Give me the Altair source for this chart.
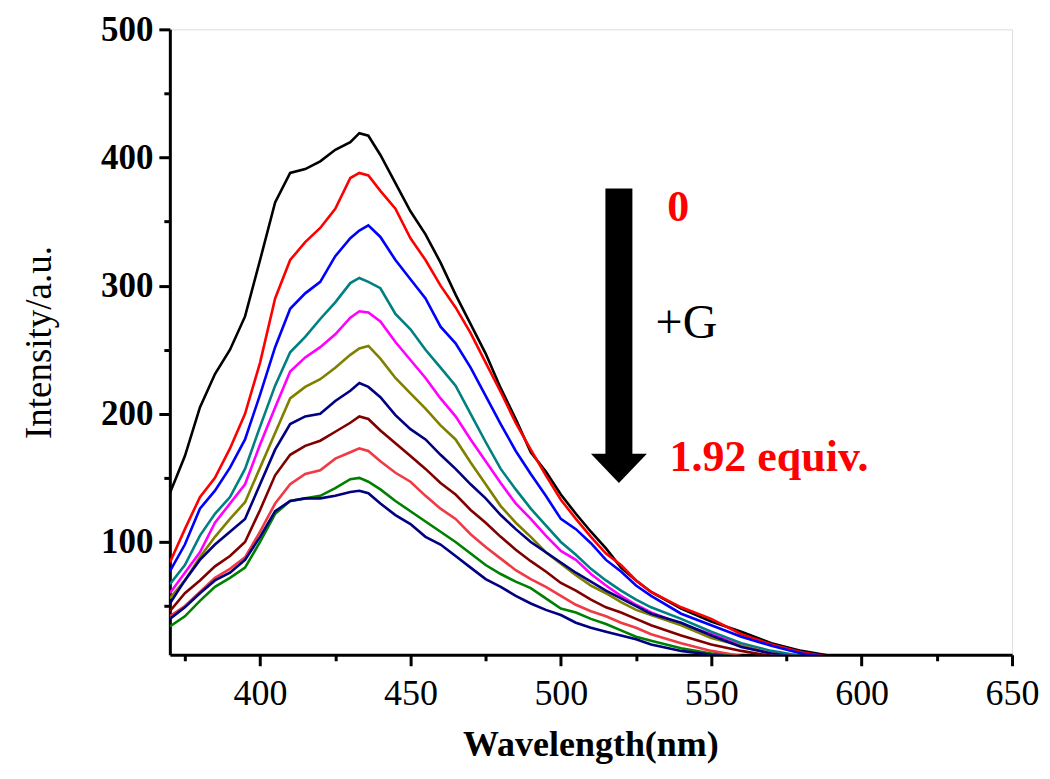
import altair as alt
import pandas as pd

wavelength = [370, 375, 380, 385, 390, 395, 400, 405, 410, 415, 420, 425, 430, 433, 436,
              440, 445, 450, 455, 460, 465, 470, 475, 480, 485, 490, 495, 500, 505, 510,
              515, 520, 525, 530, 540, 550, 560, 570, 580, 590]

s01_black = [138, 167, 205, 231, 250, 276, 320, 365, 388, 391, 397, 406, 412, 419, 417,
             402, 380, 358, 340, 318, 293, 270, 247, 220, 196, 170, 155, 137, 122, 108,
             95, 80, 70, 61, 48, 38, 30, 21, 15, 11]
s02_red = [84, 110, 135, 150, 173, 200, 240, 290, 320, 334, 345, 360, 384, 388, 386,
           374, 360, 337, 320, 300, 283, 263, 240, 217, 193, 172, 152, 133, 118, 104,
           91, 82, 70, 61, 49, 40, 28, 20, 14, 10]
s03_blue = [77, 98, 126, 140, 158, 180, 215, 252, 282, 294, 303, 323, 337, 343, 347,
            338, 320, 305, 290, 268, 255, 236, 214, 192, 171, 153, 136, 118, 110, 99,
            86, 77, 66, 58, 44, 35, 26, 19, 13, 10]
s04_teal = [67, 82, 105, 122, 135, 157, 190, 222, 248, 260, 274, 287, 302, 306, 303,
            298, 278, 266, 250, 236, 222, 200, 178, 157, 141, 126, 113, 100, 90, 79,
            70, 62, 55, 49, 40, 30, 21, 15, 11, 9]
s05_magenta = [60, 76, 92, 115, 130, 145, 176, 205, 233, 244, 252, 262, 275, 280, 279,
               272, 256, 242, 228, 212, 198, 180, 163, 146, 130, 118, 105, 93, 86, 75,
               66, 58, 51, 45, 36, 28, 19, 13, 10, 9]
s06_olive = [56, 70, 88, 104, 118, 131, 158, 185, 212, 221, 227, 236, 246, 251, 253,
             243, 228, 216, 204, 191, 180, 162, 145, 128, 115, 104, 92, 83, 74, 66,
             60, 53, 47, 43, 35, 25, 19, 13, 10, 9]
s07_navy = [52, 70, 86, 98, 108, 118, 145, 172, 192, 198, 200, 210, 218, 224, 221,
            213, 199, 188, 180, 168, 157, 145, 134, 121, 110, 100, 92, 84, 76, 69,
            62, 56, 50, 44, 37, 27, 18, 13, 10, 9]
s08_maroon = [46, 60, 70, 81, 89, 100, 125, 152, 168, 175, 179, 186, 193, 198, 196,
              187, 177, 167, 157, 146, 137, 125, 115, 104, 94, 85, 77, 68, 62, 55,
              49, 45, 40, 35, 27, 20, 15, 11, 9, 8]
s09_lightred = [42, 50, 61, 72, 79, 88, 108, 130, 145, 153, 156, 165, 170, 173, 171,
                163, 154, 147, 136, 126, 118, 106, 96, 87, 78, 71, 65, 58, 51, 46,
                42, 37, 33, 28, 21, 15, 11, 9, 8, 8]
s10_green = [34, 42, 54, 65, 72, 80, 100, 122, 132, 134, 136, 142, 149, 150, 147,
             141, 132, 124, 116, 108, 100, 91, 82, 75, 69, 64, 56, 48, 45, 40,
             36, 31, 26, 23, 17, 13, 10, 9, 8, 8]
s11_navy = [40, 49, 60, 70, 76, 86, 104, 124, 132, 134, 134, 136, 139, 140, 138,
            130, 121, 114, 104, 98, 89, 80, 71, 65, 58, 52, 47, 43, 37, 33,
            30, 27, 24, 20, 15, 12, 10, 9, 8, 8]

series_names = ["s01", "s02", "s03", "s04", "s05", "s06", "s07", "s08", "s09", "s10", "s11"]
series_values = [s01_black, s02_red, s03_blue, s04_teal, s05_magenta, s06_olive,
                 s07_navy, s08_maroon, s09_lightred, s10_green, s11_navy]
series_colors = ["#000000", "#FF0000", "#0000FF", "#008080", "#FF00FF", "#808000",
                 "#000080", "#800000", "#F03A44", "#008000", "#000080"]

x_ticks = [375, 400, 425, 450, 475, 500, 525, 550, 575, 600, 625, 650]
y_ticks = [50, 100, 150, 200, 250, 300, 350, 400, 450, 500]

# annotation (data units)
arrow_x = [519.3]
arrow_top = [375.8]
arrow_shaft_end = [165.0]
arrow_head_y = [157.4]
label_top_text = ["0"]
label_top_pos = [(535.4, 350.5)]
label_mid_text = ["+G"]
label_mid_pos = [(531.5, 259.4)]
label_bot_text = ["1.92 equiv."]
label_bot_pos = [(536.1, 155.5)]

rows = []
for name, vals in zip(series_names, series_values):
    for w, v in zip(wavelength, vals):
        rows.append({"series": name, "wavelength": w, "intensity": v})
df = pd.DataFrame(rows)

FONT = "Liberation Serif"
xscale = alt.Scale(domain=[370, 650], nice=False, zero=False)
yscale = alt.Scale(domain=[12, 500], nice=False, zero=False)

x_axis = alt.Axis(
    values=x_ticks,
    labelExpr="datum.value % 50 === 0 ? datum.label : ''",
    tickSize={"condition": {"test": "datum.value % 50 === 0", "value": 11}, "value": 6},
    tickWidth=3, tickColor="black", domainWidth=3, domainColor="black",
    labelFont=FONT, labelFontSize=36, labelColor="black", labelPadding=11,
    labelFlush=False, labelOverlap=False, grid=False,
    title="Wavelength(nm)", titleFont=FONT, titleFontSize=36, titleFontWeight="bold",
    titleColor="black", titleX=421, titleY=101, titleBaseline="alphabetic",
    titleAlign="center",
)
y_axis = alt.Axis(
    values=y_ticks,
    labelExpr="datum.value % 100 === 0 ? datum.label : ''",
    tickSize={"condition": {"test": "datum.value % 100 === 0", "value": 11}, "value": 6},
    tickWidth=3, tickColor="black", domainWidth=3, domainColor="black",
    labelFont=FONT, labelFontSize=35, labelFontWeight="bold", labelColor="black",
    labelPadding=6, labelFlush=False, labelOverlap=False, grid=False,
    title="Intensity/a.u.", titleFont=FONT, titleFontSize=37, titleFontWeight="normal",
    titleColor="black", titleX=-130, titleY=313, titleAngle=-90,
    titleBaseline="middle", titleAlign="center",
)

lines = alt.Chart(df).mark_line(strokeWidth=2.6, clip=True).encode(
    x=alt.X("wavelength:Q", scale=xscale, axis=x_axis),
    y=alt.Y("intensity:Q", scale=yscale, axis=y_axis),
    color=alt.Color("series:N", scale=alt.Scale(domain=series_names, range=series_colors),
                    legend=None),
    detail="series:N",
    order=alt.Order("wavelength:Q"),
)

arrow_df = pd.DataFrame({"x": arrow_x, "y": arrow_top, "y2": arrow_shaft_end,
                         "yh": arrow_head_y})
shaft = alt.Chart(arrow_df).mark_rule(strokeWidth=27, color="black", strokeCap="butt").encode(
    x=alt.X("x:Q", scale=xscale), y=alt.Y("y:Q", scale=yscale), y2="y2:Q")
head = alt.Chart(arrow_df).mark_point(
    shape="M-1,-0.52L1,-0.52L0,0.52Z", filled=True, color="black", opacity=1,
    size=3136, strokeWidth=0).encode(
    x=alt.X("x:Q", scale=xscale), y=alt.Y("yh:Q", scale=yscale))


def text_layer(texts, positions, color, size, weight):
    d = pd.DataFrame({"t": texts, "x": [p[0] for p in positions],
                      "y": [p[1] for p in positions]})
    return alt.Chart(d).mark_text(align="left", baseline="alphabetic", font=FONT,
                                  fontSize=size, fontWeight=weight, color=color).encode(
        x=alt.X("x:Q", scale=xscale), y=alt.Y("y:Q", scale=yscale), text="t:N")


t0 = text_layer(label_top_text, label_top_pos, "#FF0000", 44, "bold")
tg = text_layer(label_mid_text, label_mid_pos, "#000000", 48, "normal")
t1 = text_layer(label_bot_text, label_bot_pos, "#FF0000", 44, "bold")

chart = alt.layer(lines, shaft, head, t0, tg, t1).properties(
    width=843, height=626,
    autosize=alt.AutoSizeParams(type="none"),
    padding={"left": 162, "top": 21, "right": 30, "bottom": 116},
).configure_view(stroke=None).configure(background="white")

chart.save("out.html", embed_options={"renderer": "svg", "actions": False})
